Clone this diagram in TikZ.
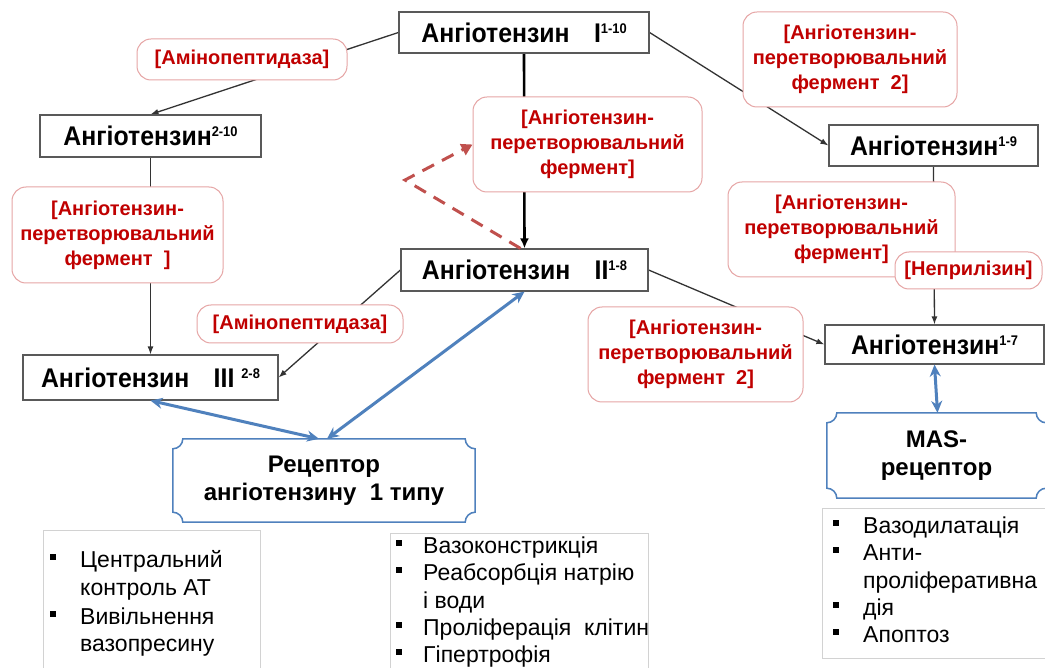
\documentclass[tikz,border=0pt]{standalone}
\usepackage{fontspec}
\setmainfont{Liberation Sans}
\newfontfamily\peptidefont[FakeStretch=0.92]{Liberation Sans}
\usetikzlibrary{calc,arrows.meta,backgrounds}

\definecolor{boxgray}{RGB}{89,89,89}
\definecolor{enzred}{RGB}{192,0,0}
\definecolor{enzborder}{RGB}{230,165,165}
\definecolor{rcpblue}{RGB}{79,129,189}
\definecolor{dashred}{RGB}{192,80,77}
\definecolor{listgray}{RGB}{210,210,210}

% superscript residue range of a peptide
\newcommand\idx[1]{\raisebox{9pt}{\fontsize{14}{14}\selectfont #1}}
% square list bullet
\newcommand\sqbul{\rule[7pt]{6pt}{6pt}}
% receptor outline: rectangle with concave (cut-in) corners
\newcommand\drawplaque[2]{%
  \draw[plaqueline]
    ($(#1.north west)+(#2,0)$) -- ($(#1.north east)+(-#2,0)$)
    .. controls ($(#1.north east)+(-#2,0.55*#2)$) and ($(#1.north east)+(-0.55*#2,#2)$) .. ($(#1.north east)+(0,#2)$)
    -- ($(#1.south east)+(0,-#2)$)
    .. controls ($(#1.south east)+(-0.55*#2,-#2)$) and ($(#1.south east)+(-#2,-0.55*#2)$) .. ($(#1.south east)+(-#2,0)$)
    -- ($(#1.south west)+(#2,0)$)
    .. controls ($(#1.south west)+(#2,-0.55*#2)$) and ($(#1.south west)+(0.55*#2,-#2)$) .. ($(#1.south west)+(0,-#2)$)
    -- ($(#1.north west)+(0,#2)$)
    .. controls ($(#1.north west)+(0.55*#2,#2)$) and ($(#1.north west)+(#2,0.55*#2)$) .. cycle;}

\begin{document}
\begin{tikzpicture}[x=1pt, y=-1pt,
  peptide/.style={draw=boxgray, line width=1.2pt, fill=white, inner sep=0pt,
    font=\peptidefont\bfseries\fontsize{27}{30}\selectfont},
  enzyme/.style={draw=enzborder, line width=1pt, rounded corners=14pt, fill=white,
    inner sep=0pt, align=center, text=enzred, font=\bfseries\fontsize{20}{25}\selectfont},
  receptor/.style={inner sep=0pt, align=center, font=\bfseries\fontsize{24}{28}\selectfont},
  plaqueline/.style={draw=rcpblue, line width=1.5pt},
  effects/.style={draw=listgray, line width=1pt, inner sep=0pt},
  item/.style={anchor=base west, inner sep=0pt, font=\fontsize{23}{27}\selectfont},
  flow/.style={draw=black!80, line width=1.3pt, -{Latex[length=8pt,width=6pt]}},
  mainflow/.style={draw=black, line width=2.6pt, -{Latex[length=10pt,width=9pt]}},
  binds/.style={draw=rcpblue, line width=3pt,
    {Stealth[length=12pt,width=11pt]}-{Stealth[length=12pt,width=11pt]}},
  feedback/.style={draw=dashred, line width=3pt, dash pattern=on 13pt off 9pt,
    -{Triangle[length=11pt,width=12pt]}}]

\useasboundingbox (0,0) rectangle (1045,668);
\clip (0,0) rectangle (1045,668);

% peptides
\node[peptide, minimum width=250pt, minimum height=41pt] (ang110) at (524,32.5) {Ангіотензин\hspace{0.9em}I\idx{1-10}};
\node[peptide, minimum width=221pt, minimum height=42pt] (ang210) at (150.5,136) {Ангіотензин\idx{2-10}};
\node[peptide, minimum width=209pt, minimum height=41pt] (ang19) at (933.5,145.5) {Ангіотензин\idx{1-9}};
\node[peptide, minimum width=247pt, minimum height=42pt] (ang18) at (524.5,270) {Ангіотензин\hspace{0.9em}II\idx{1-8}};
\node[peptide, minimum width=255pt, minimum height=45pt] (ang28) at (150.5,377.5) {Ангіотензин\hspace{0.9em}III \idx{2-8}};
\node[peptide, minimum width=219pt, minimum height=39pt] (ang17) at (934.5,344.5) {Ангіотензин\idx{1-7}};

% enzymes
\node[enzyme, minimum width=210pt, minimum height=41pt] (enzApTop) at (242,59.5) {[Амінопептидаза]};
\node[enzyme, minimum width=214pt, minimum height=95pt] (enzAce2Top) at (850,59.5) {[Ангіотензин-\\перетворювальний\\фермент~~2]};
\node[enzyme, minimum width=229pt, minimum height=95pt] (enzAceMid) at (587.5,144.5) {[Ангіотензин-\\перетворювальний\\фермент]};
\node[enzyme, minimum width=211pt, minimum height=96pt] (enzAceLeft) at (117.5,235) {[Ангіотензин-\\перетворювальний\\фермент~~]};
\node[enzyme, minimum width=206pt, minimum height=38pt] (enzApLow) at (300,324) {[Амінопептидаза]};
\node[enzyme, minimum width=227pt, minimum height=95pt] (enzAceRight) at (841.5,229.5) {[Ангіотензин-\\перетворювальний\\фермент]};
\node[enzyme, minimum width=147pt, minimum height=37pt] (enzNep) at (968.5,270.5) {[Неприлізин]};
\node[enzyme, minimum width=215pt, minimum height=95pt] (enzAce2Low) at (695.5,354.5) {[Ангіотензин-\\перетворювальний\\фермент~~2]};

% conversion pathways, passing behind the enzyme labels
\begin{scope}[on background layer]
  \fill[white] (0,0) rectangle (1045,668);
  \draw[flow] (ang110.west) -- (ang210.north);
  \draw[flow] (ang110.east) -- (ang19.west);
  \draw[mainflow] (ang110.south) -- (ang18.north);
  \draw[flow] (ang210.south) -- (ang28.north);
  \draw[flow] (ang18.west) -- (ang28.east);
  \draw[flow] (ang18.east) -- (ang17.west);
  \draw[flow] (ang19.south) -- (ang17.north);
\end{scope}

% feedback of angiotensin II on ACE
\coordinate (fbturn) at (405,180);
\draw[feedback] ([xshift=-4pt]ang18.north) -- (fbturn) -- (enzAceMid.west);

% receptors
\node[receptor, minimum width=302pt, minimum height=83pt] (rcpAT1) at (324,480.5) {Рецептор\\ангіотензину~~1 типу};
\node[receptor, minimum width=219pt, minimum height=85pt] (rcpMAS) at (936.5,455.5) {MAS-\\рецептор};
\drawplaque{rcpAT1}{10}
\drawplaque{rcpMAS}{10}

% ligand-receptor binding
\draw[binds] (ang28.south) -- ([xshift=-5pt]rcpAT1.north);
\draw[binds] (ang18.south) -- ([xshift=3pt]rcpAT1.north);
\draw[binds] (ang17.south) -- ([xshift=1pt]rcpMAS.north);

% effects of AT1 receptor
\node[effects, minimum width=217pt, minimum height=150pt] (effCentral) at (151.5,605) {};
\node[item] (c1) at (50,567) {\sqbul\hspace{24pt}Центральний};
\node[item] (c1b) at (80,595) {контроль АТ};
\node[item] (c2) at (50,624) {\sqbul\hspace{24pt}Вивільнення};
\node[item] (c2b) at (80,651) {вазопресину};

\node[effects, minimum width=258pt, minimum height=150pt] (effPeripheral) at (519,608) {};
\node[item] (p1) at (396,553) {\sqbul\hspace{21pt}Вазоконстрикція};
\node[item] (p2) at (396,580) {\sqbul\hspace{21pt}Реабсорбція натрію};
\node[item] (p2b) at (423,608) {і води};
\node[item] (p3) at (396,635) {\sqbul\hspace{21pt}Проліферація~~клітин};
\node[item] (p4) at (396,662) {\sqbul\hspace{21pt}Гіпертрофія};

% effects of MAS receptor
\node[effects, minimum width=233pt, minimum height=150pt] (effMas) at (938.5,583) {};
\node[item] (m1) at (833,533) {\sqbul\hspace{24pt}Вазодилатація};
\node[item] (m2) at (833,560) {\sqbul\hspace{24pt}Анти-};
\node[item] (m2b) at (863,588) {проліферативна};
\node[item] (m3) at (833,615) {\sqbul\hspace{24pt}дія};
\node[item] (m4) at (833,642) {\sqbul\hspace{24pt}Апоптоз};

\end{tikzpicture}
\end{document}
